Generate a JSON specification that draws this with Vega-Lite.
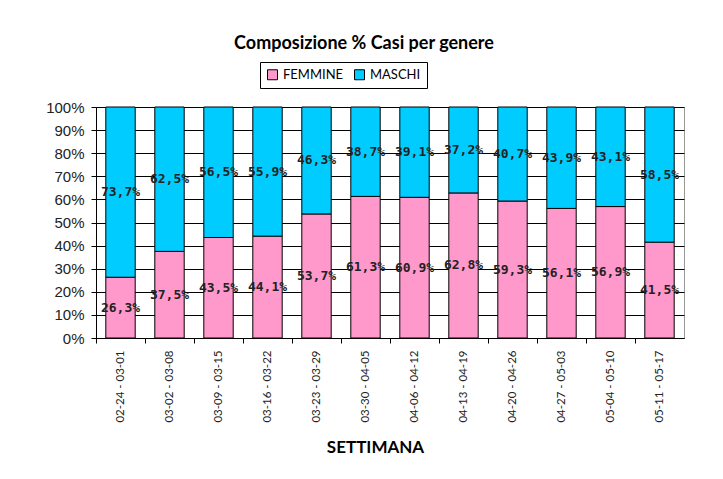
{
  "$schema": "https://vega.github.io/schema/vega-lite/v6.json",
  "width": 588,
  "height": 231,
  "autosize": {"type": "none"},
  "padding": {"left": 96, "top": 107, "right": 39, "bottom": 141},
  "background": "white",
  "title": {
    "text": "Composizione % Casi per genere",
    "font": "Lato",
    "fontSize": 18,
    "fontWeight": "bold",
    "color": "#000000",
    "anchor": "middle",
    "frame": "group",
    "dx": -26,
    "offset": 9
  },
  "data": {
    "values": [
      {"settimana": "02-24 - 03-01", "genere": "FEMMINE", "quota": 0.263},
      {"settimana": "02-24 - 03-01", "genere": "MASCHI", "quota": 0.737},
      {"settimana": "03-02 - 03-08", "genere": "FEMMINE", "quota": 0.375},
      {"settimana": "03-02 - 03-08", "genere": "MASCHI", "quota": 0.625},
      {"settimana": "03-09 - 03-15", "genere": "FEMMINE", "quota": 0.435},
      {"settimana": "03-09 - 03-15", "genere": "MASCHI", "quota": 0.565},
      {"settimana": "03-16 - 03-22", "genere": "FEMMINE", "quota": 0.441},
      {"settimana": "03-16 - 03-22", "genere": "MASCHI", "quota": 0.559},
      {"settimana": "03-23 - 03-29", "genere": "FEMMINE", "quota": 0.537},
      {"settimana": "03-23 - 03-29", "genere": "MASCHI", "quota": 0.463},
      {"settimana": "03-30 - 04-05", "genere": "FEMMINE", "quota": 0.613},
      {"settimana": "03-30 - 04-05", "genere": "MASCHI", "quota": 0.387},
      {"settimana": "04-06 - 04-12", "genere": "FEMMINE", "quota": 0.609},
      {"settimana": "04-06 - 04-12", "genere": "MASCHI", "quota": 0.391},
      {"settimana": "04-13 - 04-19", "genere": "FEMMINE", "quota": 0.628},
      {"settimana": "04-13 - 04-19", "genere": "MASCHI", "quota": 0.372},
      {"settimana": "04-20 - 04-26", "genere": "FEMMINE", "quota": 0.593},
      {"settimana": "04-20 - 04-26", "genere": "MASCHI", "quota": 0.407},
      {"settimana": "04-27 - 05-03", "genere": "FEMMINE", "quota": 0.561},
      {"settimana": "04-27 - 05-03", "genere": "MASCHI", "quota": 0.439},
      {"settimana": "05-04 - 05-10", "genere": "FEMMINE", "quota": 0.569},
      {"settimana": "05-04 - 05-10", "genere": "MASCHI", "quota": 0.431},
      {"settimana": "05-11 - 05-17", "genere": "FEMMINE", "quota": 0.415},
      {"settimana": "05-11 - 05-17", "genere": "MASCHI", "quota": 0.585}
    ]
  },
  "encoding": {
    "x": {
      "field": "settimana",
      "type": "nominal",
      "sort": null,
      "scale": {"paddingInner": 0.4, "paddingOuter": 0.2},
      "axis": {
        "title": "SETTIMANA",
        "titleFont": "Lato",
        "titleFontSize": 17,
        "titleFontWeight": "bold",
        "titleColor": "#000000",
        "titleX": 279,
        "titleY": 114,
        "titleAlign": "center",
        "titleBaseline": "alphabetic",
        "labelAngle": -90,
        "labelFont": "Lato",
        "labelFontSize": 11.5,
        "labelColor": "#222222",
        "labelPadding": 7,
        "tickOffset": -24.5,
        "labelOffset": 24.5,
        "tickColor": "#000000",
        "tickSize": 5,
        "domainColor": "#000000",
        "grid": false
      }
    }
  },
  "layer": [
    {
      "mark": {"type": "bar", "stroke": "#000000", "strokeWidth": 1},
      "encoding": {
        "y": {
          "field": "quota",
          "type": "quantitative",
          "stack": "normalize",
          "scale": {"domain": [0, 1]},
          "axis": {
            "title": null,
            "format": "%",
            "values": [0, 0.1, 0.2, 0.3, 0.4, 0.5, 0.6, 0.7, 0.8, 0.9, 1],
            "labelOverlap": false,
            "labelFont": "Liberation Sans",
            "labelFontSize": 15,
            "labelColor": "#222222",
            "labelPadding": 7,
            "tickSize": 5,
            "tickColor": "#000000",
            "domainColor": "#000000",
            "grid": true,
            "gridColor": "#000000",
            "gridOpacity": 1,
            "gridWidth": 1
          }
        },
        "color": {
          "field": "genere",
          "type": "nominal",
          "scale": {"domain": ["FEMMINE", "MASCHI"], "range": ["#FF99CC", "#00CCFF"]},
          "legend": {
            "title": null,
            "orient": "none",
            "legendX": 164,
            "legendY": -45,
            "direction": "horizontal",
            "strokeColor": "#000000",
            "padding": 6,
            "symbolType": "square",
            "symbolSize": 100,
            "symbolStrokeColor": "#000000",
            "symbolStrokeWidth": 1,
            "labelFont": "Lato",
            "labelFontSize": 13,
            "labelColor": "#000000",
            "columnPadding": 8
          }
        },
        "order": {"field": "genere"}
      }
    },
    {
      "mark": {"type": "text", "font": "DejaVu Sans Mono", "fontWeight": "bold", "fontSize": 13, "color": "#222222", "baseline": "middle", "align": "center"},
      "encoding": {
        "y": {
          "field": "quota",
          "type": "quantitative",
          "stack": "normalize",
          "bandPosition": 0.5,
          "axis": {
            "title": null,
            "format": "%",
            "values": [0, 0.1, 0.2, 0.3, 0.4, 0.5, 0.6, 0.7, 0.8, 0.9, 1],
            "labelOverlap": false,
            "labelFont": "Liberation Sans",
            "labelFontSize": 15,
            "labelColor": "#222222",
            "labelPadding": 7,
            "tickSize": 5,
            "tickColor": "#000000",
            "domainColor": "#000000",
            "grid": true,
            "gridColor": "#000000",
            "gridOpacity": 1,
            "gridWidth": 1
          }
        },
        "detail": {"field": "genere"},
        "order": {"field": "genere"},
        "text": {"field": "quota", "type": "quantitative", "format": ".1%"}
      }
    }
  ],
  "config": {
    "locale": {
      "number": {"decimal": ",", "thousands": ".", "grouping": [3], "currency": ["", " €"]}
    },
    "view": {"stroke": "#999999"}
  }
}
